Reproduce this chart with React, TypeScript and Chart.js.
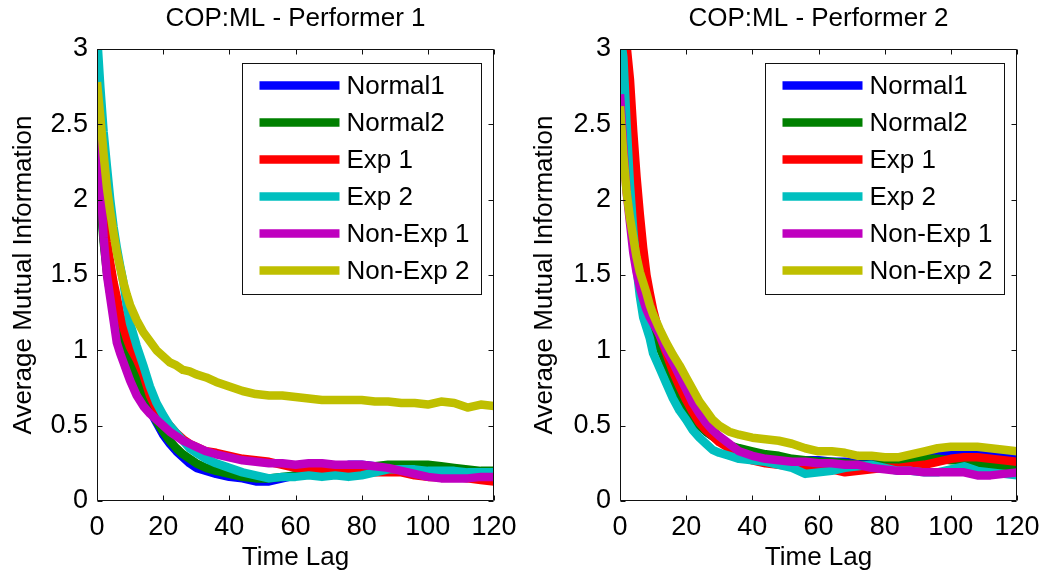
import React, { useEffect, useRef } from 'react';
import { Chart, registerables } from 'chart.js';

Chart.register(...registerables);

// ---------- data ----------
const lags = [0, 1, 2, 3, 4, 5, 6, 7, 8, 9, 10, 12, 14, 16, 18, 20, 22, 24, 26, 28, 30, 33, 36, 40, 44, 48, 52, 56, 60, 64, 68, 72, 76, 80, 84, 88, 92, 96, 100, 104, 108, 112, 116, 120];

const seriesNames = ['Normal1', 'Normal2', 'Exp 1', 'Exp 2', 'Non-Exp 1', 'Non-Exp 2'];
const seriesColors = ['#0000FF', '#008000', '#FF0000', '#00BFBF', '#BF00BF', '#BFBF00'];

const xTickValues = [0, 20, 40, 60, 80, 100, 120];
const yTickValues = [0, 0.5, 1, 1.5, 2, 2.5, 3];

// Performer 1
const p1Normal1 = [2.5, 2.05, 1.75, 1.55, 1.4, 1.3, 1.2, 1.12, 1.07, 0.98, 0.92, 0.84, 0.72, 0.6, 0.52, 0.44, 0.38, 0.33, 0.29, 0.25, 0.22, 0.2, 0.18, 0.16, 0.15, 0.13, 0.13, 0.15, 0.17, 0.19, 0.2, 0.22, 0.24, 0.24, 0.23, 0.22, 0.22, 0.22, 0.21, 0.21, 0.2, 0.2, 0.19, 0.19];
const p1Normal2 = [2.45, 2.0, 1.72, 1.52, 1.38, 1.28, 1.2, 1.12, 1.06, 0.99, 0.93, 0.83, 0.72, 0.62, 0.53, 0.46, 0.4, 0.35, 0.31, 0.28, 0.25, 0.22, 0.2, 0.18, 0.16, 0.15, 0.15, 0.16, 0.17, 0.19, 0.2, 0.21, 0.22, 0.22, 0.23, 0.24, 0.24, 0.24, 0.24, 0.23, 0.22, 0.21, 0.2, 0.2];
const p1Exp1 = [2.7, 2.2, 1.9, 1.72, 1.58, 1.45, 1.35, 1.24, 1.15, 1.08, 1.02, 0.94, 0.84, 0.7, 0.61, 0.55, 0.5, 0.45, 0.41, 0.38, 0.36, 0.33, 0.32, 0.3, 0.28, 0.27, 0.26, 0.24, 0.22, 0.21, 0.21, 0.2, 0.2, 0.2, 0.19, 0.19, 0.19, 0.17, 0.16, 0.16, 0.16, 0.15, 0.14, 0.13];
const p1Exp2 = [3.1, 2.75, 2.45, 2.22, 2.0, 1.82, 1.68, 1.56, 1.45, 1.3, 1.18, 1.03, 0.9, 0.76, 0.65, 0.57, 0.5, 0.45, 0.4, 0.35, 0.32, 0.28, 0.25, 0.22, 0.19, 0.17, 0.15, 0.16, 0.16, 0.17, 0.16, 0.17, 0.16, 0.17, 0.19, 0.21, 0.21, 0.21, 0.2, 0.2, 0.2, 0.19, 0.19, 0.19];
const p1NonExp1 = [2.6, 2.15, 1.75, 1.5, 1.35, 1.2, 1.05, 0.98, 0.92, 0.86, 0.8, 0.7, 0.63, 0.58, 0.54, 0.5, 0.46, 0.43, 0.4, 0.38, 0.36, 0.33, 0.31, 0.29, 0.27, 0.26, 0.25, 0.25, 0.24, 0.25, 0.25, 0.24, 0.24, 0.24, 0.23, 0.22, 0.2, 0.18, 0.16, 0.15, 0.15, 0.15, 0.16, 0.16];
const p1NonExp2 = [2.78, 2.55, 2.3, 2.08, 1.92, 1.78, 1.65, 1.55, 1.45, 1.37, 1.3, 1.2, 1.12, 1.06, 1.0, 0.96, 0.92, 0.9, 0.87, 0.86, 0.84, 0.82, 0.79, 0.76, 0.73, 0.71, 0.7, 0.7, 0.69, 0.68, 0.67, 0.67, 0.67, 0.67, 0.66, 0.66, 0.65, 0.65, 0.64, 0.66, 0.65, 0.62, 0.64, 0.63];

// Performer 2
const p2Normal1 = [3.05, 2.7, 2.35, 2.05, 1.85, 1.65, 1.5, 1.38, 1.28, 1.2, 1.12, 1.04, 0.92, 0.82, 0.7, 0.62, 0.55, 0.5, 0.46, 0.43, 0.4, 0.37, 0.34, 0.31, 0.29, 0.28, 0.27, 0.27, 0.27, 0.26, 0.26, 0.25, 0.25, 0.25, 0.26, 0.28, 0.3, 0.31, 0.32, 0.32, 0.32, 0.31, 0.3, 0.29];
const p2Normal2 = [2.9, 2.6, 2.3, 2.0, 1.82, 1.64, 1.5, 1.38, 1.28, 1.2, 1.12, 1.02, 0.91, 0.81, 0.71, 0.63, 0.56, 0.5, 0.46, 0.43, 0.4, 0.37, 0.35, 0.33, 0.31, 0.3, 0.28, 0.27, 0.26, 0.26, 0.25, 0.24, 0.24, 0.24, 0.25, 0.26, 0.28, 0.28, 0.27, 0.27, 0.25, 0.24, 0.23, 0.23];
const p2Exp1 = [3.3, 3.15, 3.02, 2.8, 2.45, 2.15, 1.9, 1.68, 1.5, 1.38, 1.27, 1.1, 0.98, 0.86, 0.76, 0.67, 0.59, 0.52, 0.47, 0.43, 0.39, 0.35, 0.31, 0.27, 0.25, 0.24, 0.23, 0.22, 0.22, 0.21, 0.19, 0.2, 0.21, 0.22, 0.22, 0.23, 0.24, 0.26, 0.28, 0.29, 0.29, 0.28, 0.27, 0.26];
const p2Exp2 = [3.1, 2.95, 2.5, 2.1, 1.8, 1.55, 1.36, 1.22, 1.15, 1.08, 0.98, 0.88, 0.78, 0.68, 0.6, 0.54, 0.47, 0.42, 0.38, 0.34, 0.32, 0.3, 0.28, 0.27, 0.26, 0.24, 0.22, 0.18, 0.19, 0.2, 0.22, 0.23, 0.24, 0.22, 0.2, 0.2, 0.19, 0.19, 0.21, 0.23, 0.2, 0.19, 0.18, 0.17];
const p2NonExp1 = [2.7, 2.35, 2.05, 1.85, 1.65, 1.52, 1.42, 1.34, 1.27, 1.22, 1.18, 1.1, 1.0, 0.92, 0.83, 0.74, 0.65, 0.58, 0.52, 0.47, 0.43, 0.38, 0.33, 0.3, 0.28, 0.27, 0.26, 0.26, 0.25, 0.25, 0.24, 0.24, 0.22, 0.21, 0.2, 0.2, 0.19, 0.19, 0.19, 0.19, 0.17, 0.17, 0.18, 0.19];
const p2NonExp2 = [2.62, 2.3, 2.05, 1.88, 1.75, 1.62, 1.52, 1.45, 1.38, 1.3, 1.24, 1.14, 1.05, 0.97, 0.9, 0.82, 0.74, 0.66, 0.6, 0.54, 0.5, 0.46, 0.44, 0.42, 0.41, 0.4, 0.38, 0.35, 0.33, 0.33, 0.32, 0.3, 0.3, 0.29, 0.29, 0.31, 0.33, 0.35, 0.36, 0.36, 0.36, 0.35, 0.34, 0.33];

const performer1 = [p1Normal1, p1Normal2, p1Exp1, p1Exp2, p1NonExp1, p1NonExp2];
const performer2 = [p2Normal1, p2Normal2, p2Exp1, p2Exp2, p2NonExp1, p2NonExp2];

// ---------- styling ----------
const FONT_FAMILY = "'Liberation Sans', Arial, Helvetica, sans-serif";
const LABEL_SIZE = 26;
const TICK_SIZE = 27;
const LINE_W = 8.5;

const framePlugin = {
  id: 'matlabFrame',
  afterDatasetsDraw(chart: any) {
    const { ctx, chartArea: a, scales } = chart;
    ctx.save();
    ctx.strokeStyle = '#111';
    ctx.lineWidth = 1;
    const L = Math.round(a.left) + 0.5;
    const R = Math.round(a.right) - 0.5;
    const T = Math.round(a.top) + 0.5;
    const B = Math.round(a.bottom) - 0.5;
    ctx.beginPath();
    ctx.rect(L, T, R - L, B - T);
    const len = 5;
    for (const v of xTickValues) {
      const px = Math.round(scales.x.getPixelForValue(v)) + 0.5;
      ctx.moveTo(px, B);
      ctx.lineTo(px, B - len);
      ctx.moveTo(px, T);
      ctx.lineTo(px, T + len);
    }
    for (const v of yTickValues) {
      const py = Math.round(scales.y.getPixelForValue(v)) + 0.5;
      ctx.moveTo(L, py);
      ctx.lineTo(L + len, py);
      ctx.moveTo(R, py);
      ctx.lineTo(R - len, py);
    }
    ctx.stroke();

    // legend box (MATLAB "NorthEast")
    const bw = 239;
    const bh = 231;
    const bx = Math.round(a.right) - 13 - bw + 0.5;
    const by = Math.round(a.top) + 14 + 0.5;
    ctx.fillStyle = '#fff';
    ctx.fillRect(bx, by, bw, bh);
    ctx.strokeStyle = '#111';
    ctx.strokeRect(bx, by, bw, bh);
    ctx.font = `${LABEL_SIZE}px ${FONT_FAMILY}`;
    ctx.textBaseline = 'middle';
    ctx.textAlign = 'left';
    seriesNames.forEach((name, i) => {
      const cy = by + 22 + i * 37;
      ctx.strokeStyle = seriesColors[i];
      ctx.lineWidth = LINE_W;
      ctx.lineCap = 'butt';
      ctx.beginPath();
      ctx.moveTo(bx + 17, cy);
      ctx.lineTo(bx + 97, cy);
      ctx.stroke();
      ctx.fillStyle = '#000';
      ctx.fillText(name, bx + 104, cy + 1);
    });
    ctx.restore();
  },
};

function Panel({ title, series, yAxisWidth, rightPad, left }: { title: string; series: number[][]; yAxisWidth: number; rightPad: number; left: number }) {
  const ref = useRef<HTMLCanvasElement | null>(null);
  useEffect(() => {
    if (!ref.current) return;
    const labelFont = { family: FONT_FAMILY, size: LABEL_SIZE, weight: 'normal' as const };
    const tickFont = { family: FONT_FAMILY, size: TICK_SIZE, weight: 'normal' as const };
    const datasets = series.map((vals, i) => ({
      label: seriesNames[i],
      data: lags.map((x, k) => ({ x, y: vals[k] })),
      borderColor: seriesColors[i],
      backgroundColor: seriesColors[i],
      borderWidth: LINE_W,
      pointRadius: 0,
      tension: 0,
      fill: false,
      borderJoinStyle: 'round' as const,
      borderCapStyle: 'butt' as const,
      clip: 0,
      order: series.length - i,
    }));
    const chart = new Chart(ref.current, {
      type: 'line',
      data: { datasets },
      options: {
        animation: false,
        responsive: false,
        layout: { padding: { left: 0, right: rightPad, top: 0, bottom: 0 } },
        plugins: {
          legend: { display: false },
          tooltip: { enabled: false },
          title: {
            display: true,
            text: title,
            fullSize: false,
            color: '#000',
            font: labelFont,
            padding: { top: 3, bottom: 14.8 },
          },
        },
        scales: {
          x: {
            type: 'linear',
            min: 0,
            max: 120,
            grid: { display: false, drawTicks: false },
            border: { display: false },
            ticks: {
              stepSize: 20,
              color: '#000',
              font: { ...tickFont, lineHeight: 53 / TICK_SIZE },
              padding: 0,
              maxRotation: 0,
              autoSkip: false,
              callback: (v: any) => String(v),
            },
            title: { display: true, text: 'Time Lag', color: '#000', font: labelFont, padding: { top: 0, bottom: 6 } },
            afterFit: (s: any) => {
              s.height = 78;
            },
          },
          y: {
            type: 'linear',
            min: 0,
            max: 3,
            grid: { display: false, drawTicks: false },
            border: { display: false },
            ticks: {
              stepSize: 0.5,
              color: '#000',
              font: tickFont,
              padding: 9,
              autoSkip: false,
              callback: (v: any) => String(v),
            },
            title: {
              display: true,
              text: 'Average Mutual Information',
              color: '#000',
              font: labelFont,
              padding: { top: 8.5, bottom: 0 },
            },
            afterFit: (s: any) => {
              s.width = yAxisWidth;
            },
          },
        },
      },
      plugins: [framePlugin],
    });
    return () => chart.destroy();
  }, []);
  return (
    <div style={{ position: 'absolute', left, top: 0, width: 521, height: 579 }}>
      <canvas ref={ref} width={521} height={579} style={{ display: 'block' }} />
    </div>
  );
}

export default function App() {
  return (
    <div style={{ position: 'fixed', left: 0, top: 0, width: 1042, height: 579, background: '#fff', overflow: 'hidden' }}>
      <Panel title="COP:ML - Performer 1" series={performer1} yAxisWidth={97} rightPad={27} left={0} />
      <Panel title="COP:ML - Performer 2" series={performer2} yAxisWidth={99} rightPad={25} left={521} />
    </div>
  );
}
